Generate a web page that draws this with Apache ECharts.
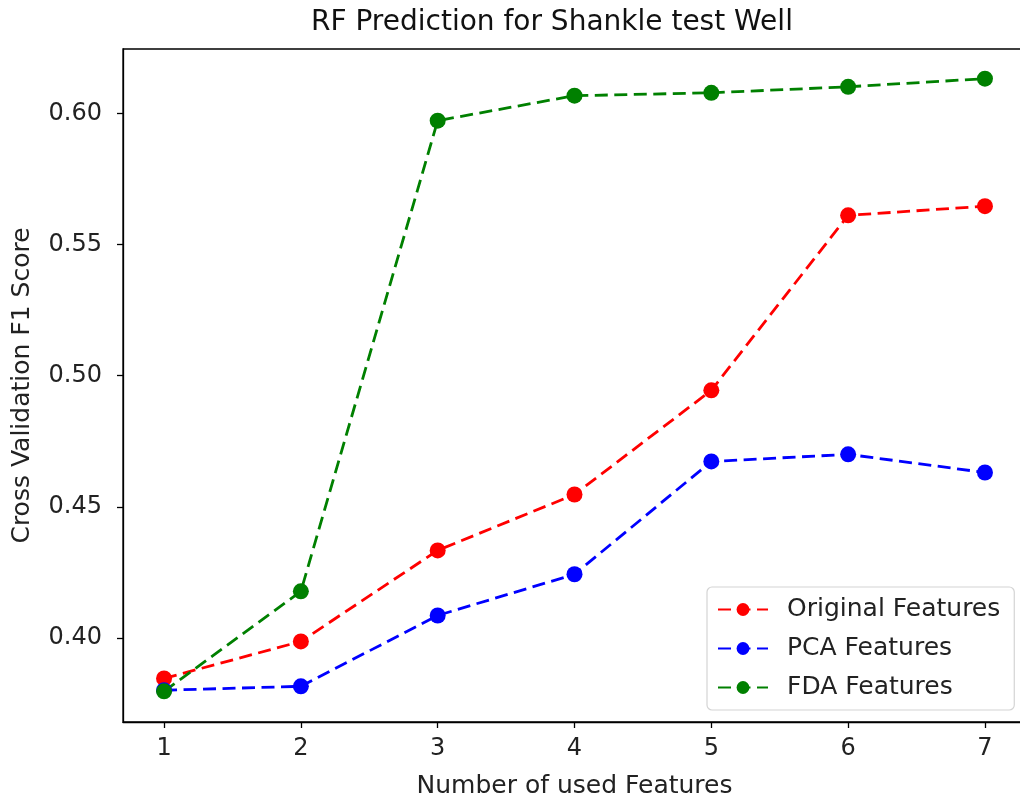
<!DOCTYPE html>
<html>
<head>
<meta charset="UTF-8">
<title>RF Prediction for Shankle test Well</title>
<script src="https://cdn.jsdelivr.net/npm/echarts@6/dist/echarts.min.js"></script>
<style>
    html, body { margin: 0; padding: 0; background: #fff; }
    #chart { width: 1020px; height: 798px; }
</style>
</head>
<body>
<div id="chart"></div>
<script>
    // values
    const featureCounts = [1, 2, 3, 4, 5, 6, 7];
    const originalScores = [0.3846, 0.3987, 0.4334, 0.4547, 0.4944, 0.5611, 0.5646];
    const pcaScores = [0.3801, 0.3816, 0.4086, 0.4243, 0.4673, 0.4700, 0.4631];
    const fdaScores = [0.3797, 0.4178, 0.5972, 0.6067, 0.6078, 0.6101, 0.6132];
    const yTicks = [0.40, 0.45, 0.50, 0.55, 0.60];

    const font = 'DejaVu Sans';
    const pairs = vals => featureCounts.map((x, i) => [x, vals[i]]);

    function lineSeries(name, color, vals) {
        return {
            name: name,
            type: 'line',
            data: pairs(vals),
            symbol: 'circle',
            symbolSize: 16,
            itemStyle: { color: color },
            lineStyle: { color: color, width: 2.8, type: [13, 6.5] },
            emphasis: { disabled: true },
            animation: false
        };
    }

    const chart = echarts.init(document.getElementById('chart'));
    chart.setOption({
        animation: false,
        title: {
            text: 'RF Prediction for Shankle test Well',
            left: 306,
            top: 4,
            textStyle: { fontFamily: font, fontSize: 28, fontWeight: 'normal', color: '#111' }
        },
        grid: {
            left: 123, top: 49, width: 903, height: 673,
            outerBoundsMode: 'none',
            show: true, borderColor: '#000', borderWidth: 1.3
        },
        legend: {
            orient: 'vertical',
            left: 707,
            top: 587,
            padding: [10, 14, 10, 10],
            itemWidth: 50,
            itemHeight: 16,
            itemGap: 14,
            borderColor: '#d4d4d4',
            borderWidth: 1.2,
            borderRadius: 5,
            backgroundColor: 'rgba(255,255,255,0.8)',
            textStyle: { fontFamily: font, fontSize: 25, color: '#222', padding: [0, 0, 0, 14] },
            data: ['Original Features', 'PCA Features', 'FDA Features']
        },
        xAxis: {
            type: 'value',
            min: 0.7,
            max: 7.3,
            interval: 1,
            name: 'Number of used Features',
            nameLocation: 'middle',
            nameGap: 52,
            nameTextStyle: { fontFamily: font, fontSize: 25, color: '#222' },
            axisLine: { lineStyle: { color: '#000', width: 1.3 } },
            axisTick: { length: 6, lineStyle: { color: '#000', width: 1.3 }, customValues: featureCounts },
            axisLabel: { fontFamily: font, fontSize: 24, color: '#222', margin: 15, customValues: featureCounts },
            splitLine: { show: false }
        },
        yAxis: {
            type: 'value',
            min: 0.368,
            max: 0.6245,
            name: 'Cross Validation F1 Score',
            nameLocation: 'middle',
            nameGap: 88,
            nameTextStyle: { fontFamily: font, fontSize: 25, color: '#222' },
            axisLine: { show: true, lineStyle: { color: '#000', width: 1.3 } },
            axisTick: { show: true, length: 6, lineStyle: { color: '#000', width: 1.3 }, customValues: yTicks },
            axisLabel: {
                fontFamily: font, fontSize: 24, color: '#222', margin: 21,
                customValues: yTicks,
                formatter: v => v.toFixed(2)
            },
            splitLine: { show: false }
        },
        series: [
            lineSeries('Original Features', '#ff0000', originalScores),
            lineSeries('PCA Features', '#0000ff', pcaScores),
            lineSeries('FDA Features', '#008000', fdaScores)
        ]
    });
</script>
</body>
</html>
